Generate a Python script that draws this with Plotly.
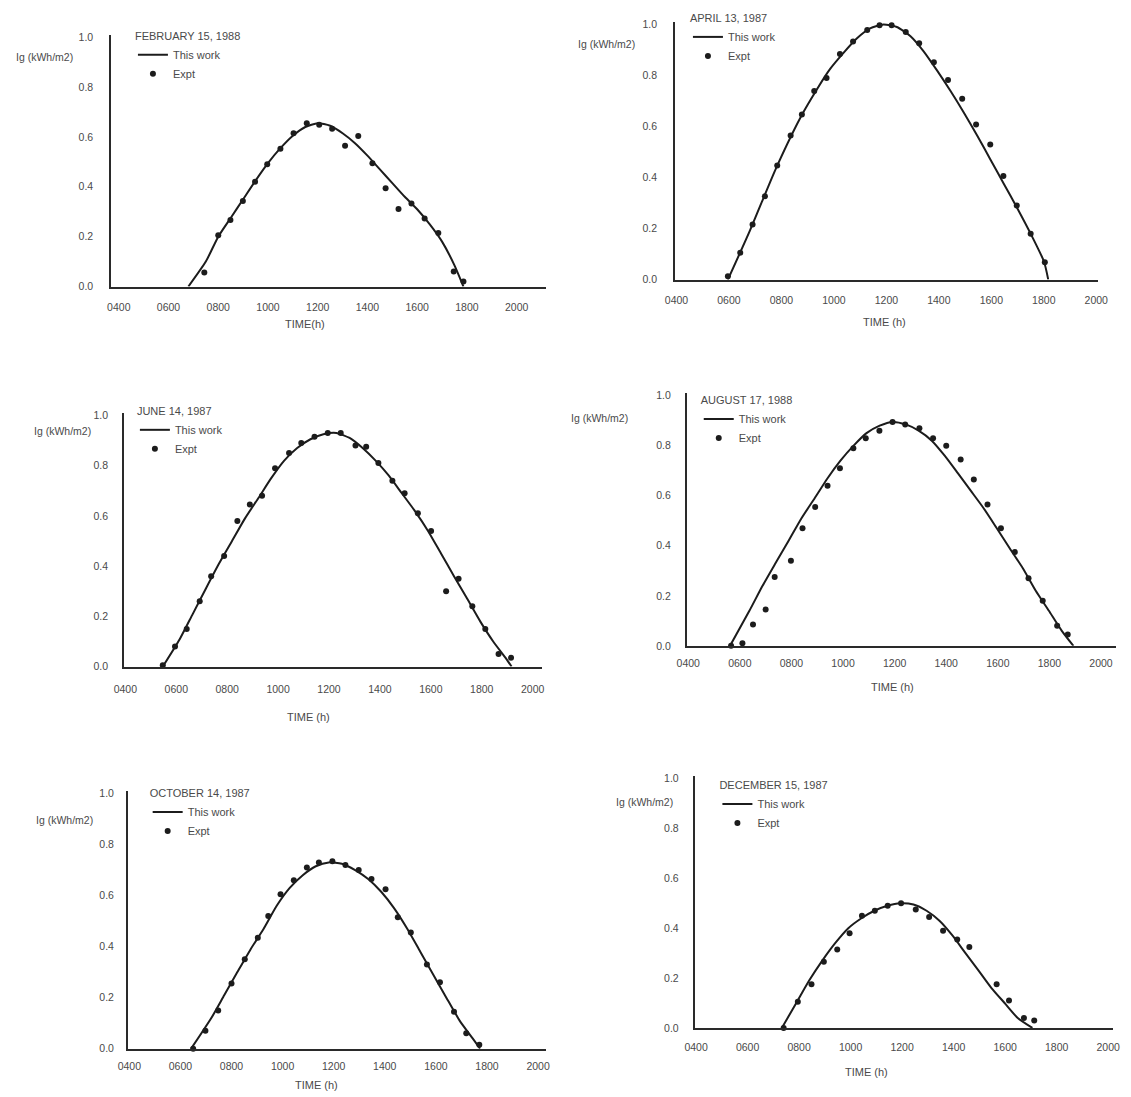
import plotly.graph_objects as go

# ---------------- data ----------------
hour_ticks = [4, 6, 8, 10, 12, 14, 16, 18, 20]
hour_labels = ["0400", "0600", "0800", "1000", "1200", "1400", "1600", "1800", "2000"]
ig_ticks = [0.0, 0.2, 0.4, 0.6, 0.8, 1.0]
ig_labels = ["0.0", "0.2", "0.4", "0.6", "0.8", "1.0"]

dates = ["FEBRUARY 15, 1988", "APRIL 13, 1987", "JUNE 14, 1987",
         "AUGUST 17, 1988", "OCTOBER 14, 1987", "DECEMBER 15, 1987"]

# February 15, 1988
feb_model_h = [6.8, 7.5, 8.0, 8.5, 9.0, 9.5, 10.0, 10.5, 11.0, 11.5, 12.0, 12.5, 13.0,
               13.5, 14.0, 14.5, 15.0, 15.5, 16.0, 16.5, 17.0, 17.5, 17.86]
feb_model_ig = [0.0, 0.1, 0.2, 0.275, 0.35, 0.425, 0.495, 0.555, 0.605, 0.64, 0.655, 0.645,
                0.615, 0.575, 0.525, 0.47, 0.415, 0.36, 0.31, 0.25, 0.18, 0.085, 0.0]
feb_expt_h = [7.44, 8.0, 8.49, 8.99, 9.48, 9.97, 10.5, 11.03, 11.56, 12.06, 12.58, 13.1,
              13.63, 14.2, 14.73, 15.25, 15.77, 16.3, 16.85, 17.47, 17.86]
feb_expt_ig = [0.056, 0.206, 0.267, 0.343, 0.42, 0.49, 0.553, 0.615, 0.655, 0.649, 0.633,
               0.565, 0.604, 0.494, 0.394, 0.311, 0.333, 0.273, 0.215, 0.06, 0.02]

# April 13, 1987
apr_model_h = [5.96, 6.79, 7.81, 8.83, 9.85, 10.87, 11.38, 11.89, 12.40, 12.91, 13.42, 13.93,
               14.44, 14.95, 15.46, 15.97, 16.48, 16.99, 17.50, 18.01, 18.17]
apr_model_ig = [0.0, 0.19, 0.44, 0.655, 0.825, 0.945, 0.985, 1.0, 0.99, 0.955, 0.895, 0.82,
                0.74, 0.655, 0.565, 0.47, 0.375, 0.28, 0.18, 0.07, 0.0]
apr_expt_h = [5.96, 6.43, 6.90, 7.37, 7.84, 8.35, 8.78, 9.25, 9.72, 10.23, 10.73, 11.27,
              11.74, 12.20, 12.74, 13.25, 13.81, 14.35, 14.89, 15.42, 15.96, 16.46, 16.97,
              17.50, 18.04]
apr_expt_ig = [0.013, 0.105, 0.216, 0.327, 0.447, 0.565, 0.647, 0.739, 0.79, 0.884, 0.933,
               0.978, 0.997, 0.997, 0.97, 0.926, 0.852, 0.782, 0.709, 0.608, 0.53, 0.406,
               0.29, 0.18, 0.068]

# June 14, 1987
jun_model_h = [5.47, 6.14, 6.65, 7.16, 7.68, 8.19, 8.70, 9.22, 9.73, 10.24, 10.75, 11.27,
               11.78, 12.29, 12.81, 13.32, 13.83, 14.35, 14.86, 15.37, 15.89, 16.40, 16.91,
               17.43, 17.94, 18.45, 18.97, 19.17]
jun_model_ig = [0.0, 0.11, 0.21, 0.31, 0.41, 0.5, 0.59, 0.67, 0.75, 0.82, 0.87, 0.905, 0.925,
                0.93, 0.91, 0.87, 0.82, 0.76, 0.69, 0.62, 0.54, 0.45, 0.36, 0.27, 0.18, 0.1,
                0.03, 0.0]
jun_expt_h = [5.47, 5.95, 6.41, 6.92, 7.37, 7.88, 8.40, 8.89, 9.37, 9.88, 10.43, 10.91,
              11.43, 11.95, 12.46, 13.04, 13.46, 13.94, 14.49, 14.97, 15.49, 16.01, 16.60,
              17.09, 17.63, 18.14, 18.66, 19.15]
jun_expt_ig = [0.005, 0.08, 0.15, 0.26, 0.36, 0.44, 0.58, 0.645, 0.68, 0.79, 0.85, 0.89,
               0.915, 0.93, 0.93, 0.88, 0.875, 0.81, 0.74, 0.69, 0.61, 0.54, 0.3, 0.35, 0.24,
               0.15, 0.05, 0.035]

# August 17, 1988
aug_model_h = [5.62, 6.37, 6.88, 7.38, 7.89, 8.39, 8.90, 9.40, 9.90, 10.41, 10.91, 11.42,
               11.92, 12.43, 12.93, 13.44, 13.94, 14.45, 14.95, 15.45, 15.96, 16.46, 16.97,
               17.47, 17.98, 18.48, 18.93]
aug_model_ig = [0.0, 0.14, 0.24, 0.33, 0.42, 0.51, 0.59, 0.67, 0.74, 0.8, 0.85, 0.88, 0.895,
                0.885, 0.86, 0.82, 0.76, 0.69, 0.62, 0.55, 0.47, 0.39, 0.31, 0.22, 0.14,
                0.06, 0.0]
aug_expt_h = [5.66, 6.10, 6.51, 7.00, 7.35, 7.98, 8.43, 8.92, 9.40, 9.88, 10.40, 10.88,
              11.41, 11.92, 12.41, 12.96, 13.49, 14.00, 14.56, 15.07, 15.60, 16.12, 16.66,
              17.19, 17.74, 18.30, 18.71]
aug_expt_ig = [0.0, 0.01, 0.085, 0.145, 0.275, 0.34, 0.47, 0.555, 0.64, 0.71, 0.79, 0.83,
               0.86, 0.895, 0.885, 0.87, 0.83, 0.8, 0.745, 0.665, 0.565, 0.47, 0.375, 0.27,
               0.18, 0.08, 0.045]

# October 14, 1987
oct_model_h = [6.42, 7.21, 7.72, 8.23, 8.75, 9.26, 9.77, 10.28, 10.79, 11.30, 11.81, 12.32,
               12.84, 13.35, 13.86, 14.37, 14.88, 15.39, 15.90, 16.41, 16.93, 17.44, 17.73]
oct_model_ig = [0.0, 0.12, 0.21, 0.3, 0.39, 0.47, 0.56, 0.63, 0.68, 0.715, 0.73, 0.725, 0.7,
                0.665, 0.615, 0.55, 0.47, 0.38, 0.29, 0.2, 0.11, 0.04, 0.0]
oct_expt_h = [6.50, 6.98, 7.48, 8.00, 8.52, 9.03, 9.44, 9.92, 10.44, 10.95, 11.42, 11.95,
              12.46, 12.98, 13.48, 14.03, 14.51, 15.02, 15.65, 16.16, 16.71, 17.19, 17.70]
oct_expt_ig = [0.0, 0.07, 0.15, 0.255, 0.35, 0.435, 0.52, 0.605, 0.66, 0.71, 0.73, 0.735,
               0.72, 0.7, 0.665, 0.625, 0.515, 0.455, 0.33, 0.26, 0.145, 0.06, 0.015]

# December 15, 1987
dec_model_h = [7.33, 7.89, 8.39, 8.90, 9.40, 9.91, 10.42, 10.92, 11.43, 11.93, 12.44, 12.95,
               13.45, 13.96, 14.46, 14.97, 15.47, 15.98, 16.49, 17.06]
dec_model_ig = [0.0, 0.1, 0.19, 0.27, 0.34, 0.4, 0.44, 0.47, 0.49, 0.5, 0.495, 0.47, 0.43,
                0.37, 0.3, 0.23, 0.16, 0.1, 0.04, 0.0]
dec_expt_h = [7.40, 7.95, 8.48, 8.96, 9.48, 9.96, 10.44, 10.94, 11.44, 11.96, 12.53, 13.05,
              13.59, 14.14, 14.61, 15.67, 16.15, 16.73, 17.13]
dec_expt_ig = [0.0, 0.105, 0.175, 0.265, 0.315, 0.38, 0.45, 0.47, 0.49, 0.5, 0.475, 0.445,
               0.39, 0.355, 0.325, 0.175, 0.11, 0.04, 0.03]

model_h = [feb_model_h, apr_model_h, jun_model_h, aug_model_h, oct_model_h, dec_model_h]
model_ig = [feb_model_ig, apr_model_ig, jun_model_ig, aug_model_ig, oct_model_ig, dec_model_ig]
expt_h = [feb_expt_h, apr_expt_h, jun_expt_h, aug_expt_h, oct_expt_h, dec_expt_h]
expt_ig = [feb_expt_ig, apr_expt_ig, jun_expt_ig, aug_expt_ig, oct_expt_ig, dec_expt_ig]

# ---------------- layout (screen-pixel geometry of each panel) ----------------
W, H = 1131, 1097
OFF = 8  # default page margin in the exported HTML
# (left, right, top, bottom) of each plot area, screen pixels
boxes = [(103, 546, 27, 282), (677, 1107, 14, 275), (116, 541, 410, 667),
         (689, 1126, 390, 646), (120, 546, 793, 1054), (697, 1123, 778, 1033)]
x_ranges = [(3.7, 21.2), (3.95, 20.05), (3.95, 20.35), (3.95, 20.59), (3.95, 20.33), (3.95, 20.2)]
x_standoff = [10, 10, 12, 7, 7, 8]
y_standoff = [14, 14, 12, 12, 10, 12]
# legend title: left x, centre y
legend_pos = [(128, 26), (693, 8), (130, 406), (704, 395), (143, 793), (723, 785)]
# "Ig (kWh/m2)": right edge x, centre y
ig_label_pos = [(66, 50), (638, 36), (84, 428), (631, 415), (86, 822), (677, 804)]
time_label_pos = [(300, 320), (890, 318), (304, 718), (898, 688), (312, 1091), (872, 1078)]
time_texts = ["TIME(h)", "TIME (h)", "TIME (h)", "TIME (h)", "TIME (h)", "TIME (h)"]

FONT = "Liberation Sans, Arial, sans-serif"
TXT = "#4a4a4a"
AX = "#2a2a2a"
DARK = "#1c1c1c"


def px(v):
    return (v - OFF) / W


def py(v):
    return 1 - (v - OFF) / H


fig = go.Figure()
layout = dict(width=W, height=H, plot_bgcolor="white", paper_bgcolor="white",
              margin=dict(l=0, r=0, t=0, b=0), font=dict(family=FONT, size=11, color=TXT),
              annotations=[])

for i in range(6):
    n = "" if i == 0 else str(i + 1)
    xa, ya = "x" + n, "y" + n
    lg = "legend" + n
    l, r, t, b = boxes[i]
    layout["xaxis" + n] = dict(
        domain=[px(l), px(r)], anchor=ya, range=list(x_ranges[i]),
        tickvals=hour_ticks, ticktext=hour_labels, showgrid=False, zeroline=False,
        showline=True, linecolor=AX, linewidth=2, ticks="",
        ticklabelstandoff=x_standoff[i],
        tickfont=dict(size=10.5, color=TXT, family=FONT))
    layout["yaxis" + n] = dict(
        domain=[py(b), py(t)], anchor=xa, range=[0, 1.01],
        tickvals=ig_ticks, ticktext=ig_labels, showgrid=False, zeroline=False,
        showline=True, linecolor=AX, linewidth=2, ticks="",
        ticklabelstandoff=y_standoff[i],
        tickfont=dict(size=10.5, color=TXT, family=FONT))
    lx, ly = legend_pos[i]
    layout[lg] = dict(
        x=px(lx - 3), y=py(ly - 8), xanchor="left", yanchor="top",
        bgcolor="rgba(0,0,0,0)", borderwidth=0,
        title=dict(text=dates[i], font=dict(size=11, color=TXT, family=FONT)),
        font=dict(size=11, color=TXT, family=FONT), itemwidth=30, tracegroupgap=0)

    fig.add_trace(go.Scatter(
        x=model_h[i], y=model_ig[i], mode="lines", name="This work",
        line=dict(color=DARK, width=2, shape="spline", smoothing=0.6),
        xaxis=xa, yaxis=ya, legend=lg, cliponaxis=False))
    fig.add_trace(go.Scatter(
        x=expt_h[i], y=expt_ig[i], mode="markers", name="Expt",
        marker=dict(color=DARK, size=6, symbol="circle"),
        xaxis=xa, yaxis=ya, legend=lg, cliponaxis=False))

    ix, iy = ig_label_pos[i]
    layout["annotations"].append(dict(
        text="Ig (kWh/m2)", x=px(ix), y=py(iy), xref="paper", yref="paper",
        xanchor="right", yanchor="middle", showarrow=False,
        font=dict(size=10.5, color=TXT, family=FONT)))
    tx, ty = time_label_pos[i]
    layout["annotations"].append(dict(
        text=time_texts[i], x=px(tx), y=py(ty), xref="paper", yref="paper",
        xanchor="center", yanchor="middle", showarrow=False,
        font=dict(size=11, color=TXT, family=FONT)))

fig.update_layout(**layout)
fig.write_html("out.html")
